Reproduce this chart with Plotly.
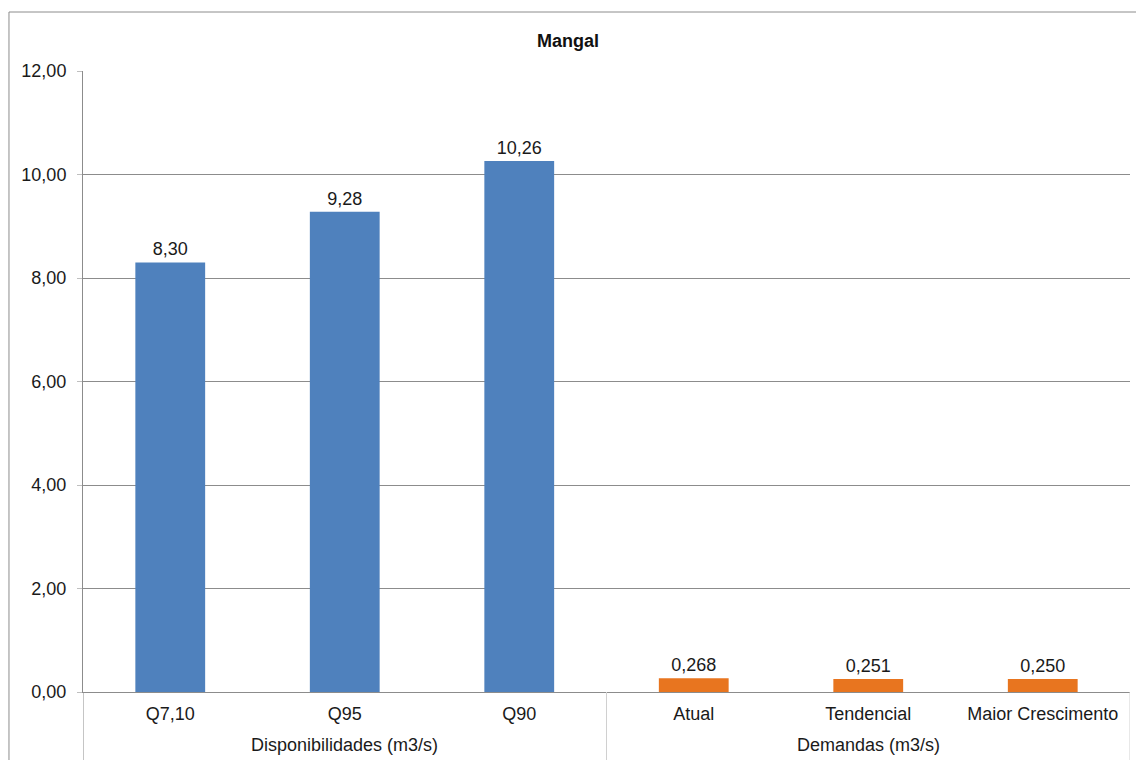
import plotly.graph_objects as go

# Water availability and demand for the Mangal basin
groups = ["Disponibilidades (m3/s)"] * 3 + ["Demandas (m3/s)"] * 3
categories = ["Q7,10", "Q95", "Q90", "Atual", "Tendencial", "Maior Crescimento"]
values = [8.30, 9.28, 10.26, 0.268, 0.251, 0.250]
value_labels = ["8,30", "9,28", "10,26", "0,268", "0,251", "0,250"]
bar_colors = ["#4F81BD", "#4F81BD", "#4F81BD", "#E8751F", "#E8751F", "#E8751F"]
y_ticks = [0, 2, 4, 6, 8, 10, 12]

FONT = "Liberation Sans, Arial, sans-serif"
TEXT_COLOR = "#1A1A1A"
AXIS_COLOR = "#8C8C8C"

fig = go.Figure(
    go.Bar(
        x=categories,
        y=values,
        marker=dict(color=bar_colors, line=dict(width=0)),
        text=value_labels,
        textposition="outside",
        textfont=dict(family=FONT, size=18, color=TEXT_COLOR),
        cliponaxis=False,
        hoverinfo="skip",
    )
)

fig.update_layout(
    width=1136,
    height=760,
    margin=dict(l=83, r=6, t=71, b=68),
    paper_bgcolor="white",
    plot_bgcolor="white",
    separators=",.",
    bargap=0.6,
    showlegend=False,
    title=dict(
        text="<b>Mangal</b>",
        x=0.5,
        xanchor="center",
        y=0.947,
        yanchor="middle",
        font=dict(family=FONT, size=18, color="#111111"),
    ),
    font=dict(family=FONT, size=18, color=TEXT_COLOR),
)

fig.update_yaxes(
    range=[0, 12],
    tickvals=y_ticks,
    tickformat=".2f",
    showgrid=True,
    gridcolor=AXIS_COLOR,
    gridwidth=1,
    showline=True,
    linecolor=AXIS_COLOR,
    linewidth=1,
    ticks="outside",
    ticklen=5,
    tickcolor="#BFBFBF",
    ticklabelstandoff=7,
    zeroline=False,
    tickfont=dict(family=FONT, size=18, color=TEXT_COLOR),
)

fig.update_xaxes(
    type="category",
    range=[-0.5, len(categories) - 0.5],
    showline=True,
    linecolor=AXIS_COLOR,
    linewidth=1,
    ticks="",
    ticklabelstandoff=5,
    tickfont=dict(family=FONT, size=18, color=TEXT_COLOR),
)

# Group labels and separators under the category axis
group_names = list(dict.fromkeys(groups))
boundaries = [-0.5]
for name in group_names:
    idx = [i for i, g in enumerate(groups) if g == name]
    fig.add_annotation(
        text=name,
        x=(idx[0] + idx[-1]) / 2,
        xref="x",
        y=-0.0853,
        yref="paper",
        yanchor="middle",
        showarrow=False,
        font=dict(family=FONT, size=18, color=TEXT_COLOR),
    )
    boundaries.append(idx[-1] + 0.5)

for i, b in enumerate(boundaries):
    fig.add_shape(
        type="line",
        xref="x",
        yref="paper",
        x0=b,
        x1=b,
        y0=0,
        y1=-0.13,
        line=dict(color=AXIS_COLOR if i == 0 else "#D0D0D0", width=1),
    )

# Chart border
fig.add_shape(
    type="rect",
    xref="paper",
    yref="paper",
    x0=-0.0707,
    x1=1.01,
    y0=-0.13,
    y1=1.095,
    line=dict(color=AXIS_COLOR, width=1),
    fillcolor="rgba(0,0,0,0)",
    layer="below",
)

fig.write_html("out.html")
